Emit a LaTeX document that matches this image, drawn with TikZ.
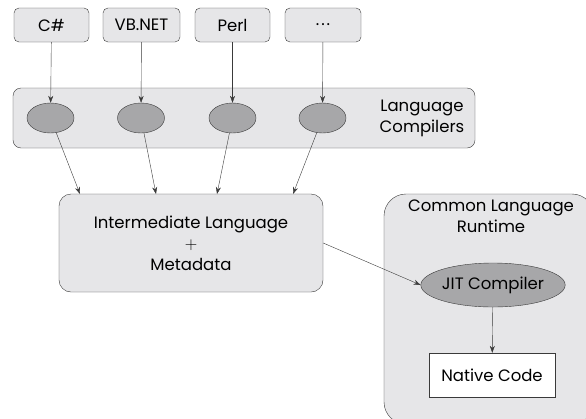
\documentclass[tikz,border=0pt]{standalone}
\usepackage{fontspec}
\setmainfont{Poppins}
\usepackage{tikz}
\usetikzlibrary{arrows.meta,shapes.geometric}
\definecolor{clr-fill}{HTML}{E6E6E8}
\definecolor{clr-oval}{HTML}{A7A7A9}
\definecolor{clr-line}{HTML}{3A3A3A}

\begin{document}
\begin{tikzpicture}[x=1pt,y=-1pt,
  font=\fontsize{16.5}{21}\selectfont,
  lang/.style={draw=clr-line,fill=clr-fill,rounded corners=5pt,minimum height=34pt,inner sep=0pt},
  oval/.style={draw=clr-line,fill=clr-oval,ellipse,inner sep=0pt},
  arr/.style={draw=clr-line,-{Stealth[length=7pt,width=5pt]}}]
\useasboundingbox (0,0) rectangle (586,418);
\clip (0,0) rectangle (586,418);
% source languages
\node[lang,minimum width=75pt] (cs) at (51.5,25) {C\#};
\node[lang,minimum width=77pt] (vb) at (141.5,25) {VB.NET};
\node[lang,minimum width=75pt] (perl) at (232.5,25) {Perl};
\node[lang,minimum width=76pt] (etc) at (323,25) {.\hspace{2pt}.\hspace{2pt}.};
% compilers
\draw[draw=clr-line,fill=clr-fill,rounded corners=8pt] (13,88) rectangle (475,148);
\node[align=center] (comp) at (422,118) {Language\\Compilers};
\node[oval,minimum width=47pt,minimum height=30pt] (e1) at (50.5,118) {};
\node[oval,minimum width=47pt,minimum height=30pt] (e2) at (141,118) {};
\node[oval,minimum width=47pt,minimum height=30pt] (e3) at (232.5,118) {};
\node[oval,minimum width=47pt,minimum height=30pt] (e4) at (322.5,118) {};
% intermediate language
\node[draw=clr-line,fill=clr-fill,rounded corners=12pt,minimum width=264pt,minimum height=98pt,align=center] (il) at (191,243)
  {Intermediate Language\\$+$\\Metadata};
\coordinate (in1) at (80,194);
\coordinate (in2) at (156,194);
\coordinate (in3) at (217,194);
\coordinate (in4) at (293,194);
% runtime
\draw[draw=clr-line,fill=clr-fill,rounded corners=22pt] (384,194) rectangle (594,424);
\node[align=center] (clr) at (491,216) {Common Language\\Runtime};
\node[oval,minimum width=130pt,minimum height=44pt] (jit) at (493,285) {JIT Compiler};
\node[draw=clr-line,fill=white,minimum width=126pt,minimum height=44pt] (native) at (492,375) {Native Code};
% arrows
\draw[arr] (cs) -- (e1);
\draw[arr] (vb) -- (e2);
\draw[arr] (perl) -- (e3);
\draw[arr] (etc) -- (e4);
\draw[arr] (e1) -- (in1);
\draw[arr] (e2) -- (in2);
\draw[arr] (e3) -- (in3);
\draw[arr] (e4) -- (in4);
\draw[arr] (il.east) -- (jit.west);
\draw[arr] (jit) -- (native);
\end{tikzpicture}
\end{document}
